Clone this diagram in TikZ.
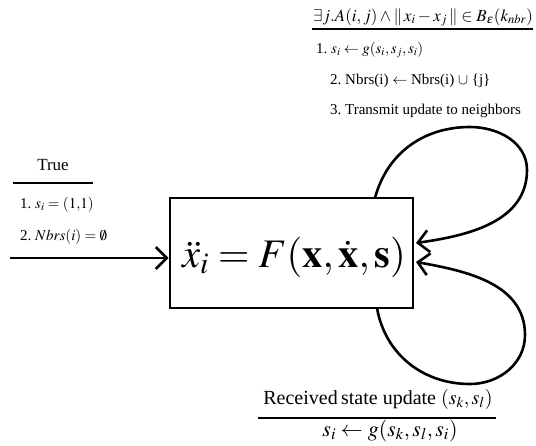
\documentclass[tikz,border=0pt]{standalone}
\usepackage{mathptmx}
\usepackage[no-math]{fontspec}
\setmainfont{Liberation Serif}
\usetikzlibrary{arrows.meta}
\begin{document}
\begin{tikzpicture}[x=1pt,y=-1pt,
  lbl/.style={inner sep=0pt,anchor=base west,font=\fontsize{15}{17}\selectfont},
  lblc/.style={inner sep=0pt,anchor=base,font=\fontsize{15}{17}\selectfont},
  thick line/.style={line width=2.6pt},
  arr/.style={thick line,-{Straight Barb[length=11pt,width=22pt,line width=2.6pt]}},
  rule/.style={line width=1.4pt}]
\useasboundingbox (0,0) rectangle (536,445);
% central box
\node[draw,line width=2.8pt,minimum width=243pt,minimum height=110pt,inner sep=0pt] (box) at (291.5,253) {};
\node[inner sep=0pt,anchor=base west,font=\fontsize{40.5}{44}\selectfont] (eq) at (182,267)
  {$\ddot{x}_i = F(\mathbf{x},\dot{\mathbf{x}},\mathbf{s})$};
% incoming arrow
\coordinate (start) at (10,258);
\draw[arr] (start) -- (box.west |- start);
% left labels
\node[lblc,font=\fontsize{17}{19}\selectfont] (true) at (53,170) {True};
\coordinate (tl) at (13,183);
\coordinate (tr) at (93,183);
\draw[rule] (tl) -- (tr);
\node[lbl] (l1) at (20,208) {1.\ $s_i=(1{,}1)$};
\node[lbl] (l2) at (20,240) {2.\ $Nbrs(i)=\emptyset$};
% top labels
\node[inner sep=0pt,anchor=base,font=\fontsize{17}{19}\selectfont] (topf) at (423,21)
  {$\exists j.A(i,j)\wedge\|\,x_i-x_j\,\|\in B_{\varepsilon}(k_{nbr})$};
\coordinate (ul) at (312,29);
\coordinate (ur) at (533,29);
\draw[rule] (ul) -- (ur);
\node[lbl] (t1) at (316,53) {1.\ $s_i\leftarrow g(s_i,s_j,s_i)$};
\node[lbl] (t2) at (330,84) {2.\ Nbrs(i) $\leftarrow$ Nbrs(i) $\cup$ \{j\}};
\node[lbl] (t3) at (330,114) {3.\ Transmit update to neighbors};
% bottom labels
\node[lblc,font=\fontsize{20}{22}\selectfont] (recv) at (378,404) {Received\,state update $(s_k,s_l)$};
\coordinate (bl) at (258,418);
\coordinate (br) at (496,418);
\draw[rule] (bl) -- (br);
\node[lblc,font=\fontsize{22}{24}\selectfont] (upd) at (390,436) {$s_i\leftarrow g(s_k,s_l,s_i)$};
% loops
\coordinate (topS) at (375,198);
\coordinate (topE) at (416,243);
\coordinate (botS) at (377,308);
\coordinate (botE) at (416,262);
\draw[arr] (topS) to[out=75,in=180] (470,127) to[out=0,in=90] (527,170) to[out=-90,in=8] (topE);
\draw[arr] (botS) to[out=-80,in=180] (470,384) to[out=0,in=-90] (525,335) to[out=90,in=-10] (botE);
\end{tikzpicture}
\end{document}
